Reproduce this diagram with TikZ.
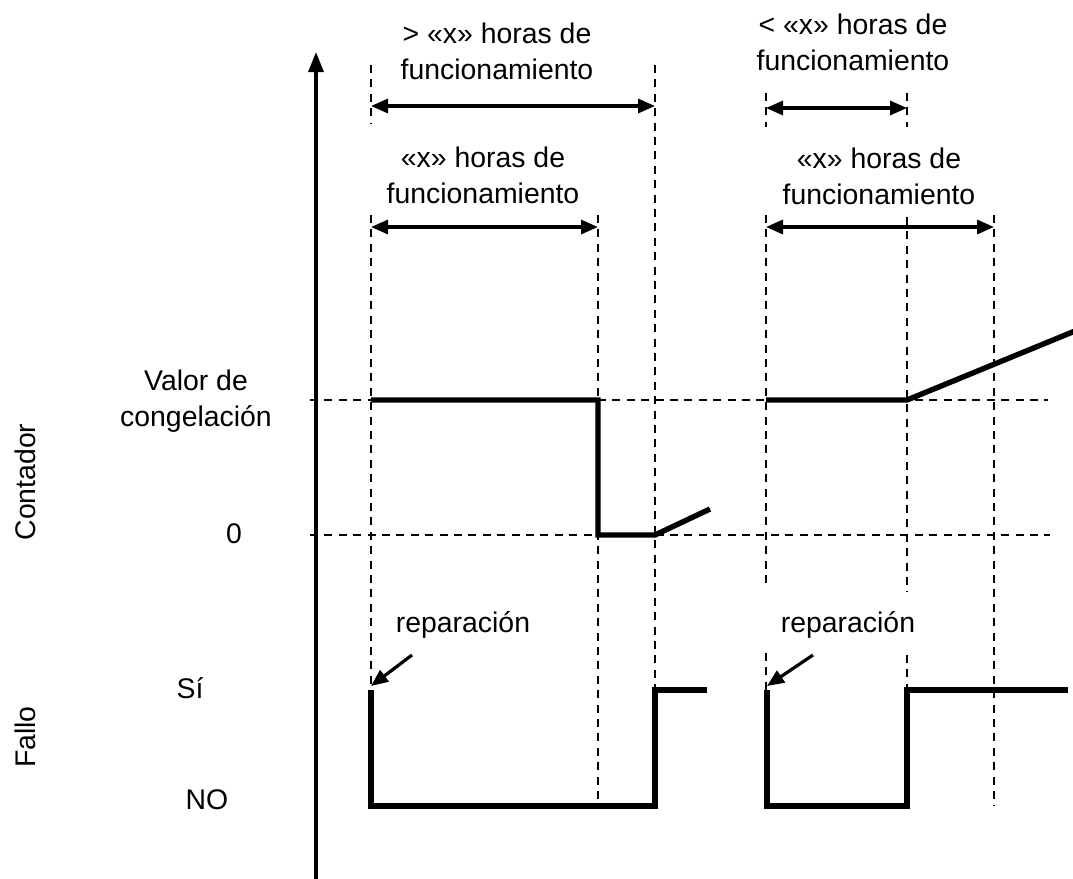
\documentclass[tikz,border=0pt]{standalone}
\usepackage{fontspec}
\setmainfont{Liberation Sans}
\usetikzlibrary{arrows.meta}

\tikzset{
  senal/.style={line width=2.7pt, line join=miter},
  guia/.style={dash pattern=on 4pt off 3.2pt, line width=1.1pt},
  cota/.style={{Triangle[length=8.5pt,width=7pt]}-{Triangle[length=8.5pt,width=7pt]}, line width=1.6pt},
  flecha/.style={-{Triangle[length=8.5pt,width=7pt]}, line width=1.6pt},
  etiq/.style={align=center, font=\fontsize{14.2}{18}\selectfont, inner sep=0pt},
}

\begin{document}
\begin{tikzpicture}[x=0.5pt, y=-0.5pt]
  \useasboundingbox (0,0) rectangle (1073,879);
  % eje
  \coordinate (ejeA) at (316,879);
  \coordinate (ejeB) at (316,52);
  \draw[-{Triangle[length=10pt,width=7.5pt]}, line width=1.6pt] (ejeA) -- (ejeB);

  % guias horizontales
  \draw[guia] (310,400) -- (1048,400);
  \draw[guia] (310,535) -- (1050,535);

  % guias verticales (cortadas donde van los rotulos)
  \draw[guia] (371,65) -- (371,123);
  \draw[guia] (371,215) -- (371,806);
  \draw[guia] (598,215) -- (598,806);
  \draw[guia] (655,65) -- (655,690);
  \draw[guia] (766,93) -- (766,127);
  \draw[guia] (766,215) -- (766,588);
  \draw[guia] (766,653) -- (766,806);
  \draw[guia] (907,93) -- (907,127);
  \draw[guia] (907,217) -- (907,592);
  \draw[guia] (907,655) -- (907,690);
  \draw[guia] (994,215) -- (994,806);

  % contador
  \draw[senal] (371,400) -- (598,400) -- (598,535) -- (655,535) -- (710,509);
  \draw[senal] (766,400) -- (907,400) -- (1075,331);

  % fallo
  \draw[senal] (371,690) -- (371,806) -- (655,806) -- (655,690) -- (707,690);
  \draw[senal] (767,690) -- (767,806) -- (907,806) -- (907,690) -- (1068,690);

  % rotulos de las cotas
  \node[etiq] (mas) at (497,51) {> «x» horas de\\funcionamiento};
  \node[etiq] (igual1) at (483,175) {«x» horas de\\funcionamiento};
  \node[etiq] (menos) at (853,42) {< «x» horas de\\funcionamiento};
  \node[etiq] (igual2) at (879,176) {«x» horas de\\funcionamiento};

  % cotas
  \coordinate (c1a) at (371,106); \coordinate (c1b) at (655,106);
  \coordinate (c2a) at (371,227); \coordinate (c2b) at (598,227);
  \coordinate (c3a) at (766,108); \coordinate (c3b) at (907,108);
  \coordinate (c4a) at (766,227); \coordinate (c4b) at (994,227);
  \draw[cota] (c1a) -- (c1b);
  \draw[cota] (c2a) -- (c2b);
  \draw[cota] (c3a) -- (c3b);
  \draw[cota] (c4a) -- (c4b);

  % reparacion
  \node[etiq] (rep1) at (463,625) {reparación};
  \node[etiq] (rep2) at (848,625) {reparación};
  \coordinate (r1a) at (412,655); \coordinate (r1b) at (371,686);
  \coordinate (r2a) at (813,655); \coordinate (r2b) at (767,686);
  \draw[flecha] (r1a) -- (r1b);
  \draw[flecha] (r2a) -- (r2b);

  % rotulos izquierda
  \node[etiq, rotate=90] (cont) at (25,482) {Contador};
  \node[etiq, rotate=90] (fallo) at (25,737) {Fallo};
  \node[etiq] (valor) at (196,401) {Valor de\\congelación};
  \node[etiq] (cero) at (234,534) {0};
  \node[etiq] (si) at (190,688) {Sí};
  \node[etiq] (no) at (207,800) {NO};
\end{tikzpicture}
\end{document}
